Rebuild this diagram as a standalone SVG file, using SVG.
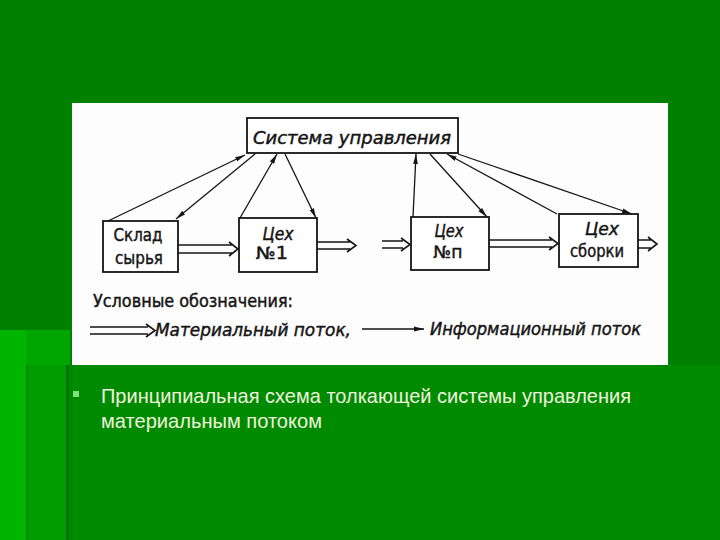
<svg xmlns="http://www.w3.org/2000/svg" width="720" height="540" viewBox="0 0 720 540">
<defs>
<marker id="ah" viewBox="0 0 10 6" refX="10" refY="3" markerWidth="10" markerHeight="6" markerUnits="userSpaceOnUse" orient="auto">
<path d="M0,0.6 L10,3 L0,5.4 Z" fill="#151515"/>
</marker>
<style>
.box{fill:#fff;stroke:#151515;stroke-width:1.8}
.info{fill:none;stroke:#151515;stroke-width:1.3}
.mat{fill:none;stroke:#151515;stroke-width:1.6;stroke-linejoin:miter}
.hand{font-family:"DejaVu Sans","Liberation Sans",sans-serif;fill:#151515;stroke:#151515;stroke-width:0.45;font-size:17px}
.it{font-style:italic}
.cap{font-family:"Liberation Sans","Arial",sans-serif;fill:#eef3dc;font-size:21px}
</style>
</defs>
<rect x="0" y="0" width="720" height="540" fill="#008000"/>
<rect x="0" y="330" width="70" height="36" fill="#00a600"/>
<rect x="0" y="330" width="26" height="210" fill="#00b500"/>
<rect x="26" y="365" width="694" height="175" fill="#008a00"/>
<rect x="27" y="365" width="39" height="175" fill="#009c00"/>
<rect x="26" y="365" width="1.5" height="175" fill="#008000"/>
<rect x="66" y="365" width="3" height="175" fill="#007400"/>
<rect x="72" y="103" width="596" height="262" fill="#fdfdfd"/>

<g id="control">
<rect class="box" x="247" y="118" width="211" height="35"/>
<text class="hand it" x="352" y="144" text-anchor="middle" textLength="198" lengthAdjust="spacingAndGlyphs">Система управления</text>
</g>
<g id="sklad">
<rect class="box" x="103" y="221" width="75" height="51"/>
<text class="hand" x="138" y="241" text-anchor="middle" textLength="49" lengthAdjust="spacingAndGlyphs">Склад</text>
<text class="hand" x="139" y="264" text-anchor="middle" textLength="48" lengthAdjust="spacingAndGlyphs">сырья</text>
</g>
<g id="ceh1">
<rect class="box" x="239" y="218" width="78" height="54"/>
<text class="hand it" x="278" y="240" text-anchor="middle" textLength="31" lengthAdjust="spacingAndGlyphs">Цех</text>
<text class="hand" x="272" y="259" text-anchor="middle" textLength="32" lengthAdjust="spacingAndGlyphs">№1</text>
</g>
<g id="cehn">
<rect class="box" x="411" y="217" width="78" height="53"/>
<text class="hand it" x="449" y="237" text-anchor="middle" textLength="29" lengthAdjust="spacingAndGlyphs">Цех</text>
<text class="hand" x="448" y="258" text-anchor="middle" textLength="29" lengthAdjust="spacingAndGlyphs">№п</text>
</g>
<g id="sborka">
<rect class="box" x="559" y="214" width="79" height="53"/>
<text class="hand it" x="602" y="235" text-anchor="middle" textLength="34" lengthAdjust="spacingAndGlyphs">Цех</text>
<text class="hand" x="597" y="257" text-anchor="middle" textLength="54" lengthAdjust="spacingAndGlyphs">сборки</text>
</g>

<g id="connectors">
<line class="info" x1="108" y1="221" x2="245" y2="155" marker-end="url(#ah)"/>
<line class="info" x1="255" y1="154" x2="176" y2="219" marker-end="url(#ah)"/>
<line class="info" x1="240" y1="218" x2="277" y2="154" marker-end="url(#ah)"/>
<line class="info" x1="285" y1="154" x2="316" y2="218" marker-end="url(#ah)"/>
<line class="info" x1="413" y1="217" x2="416" y2="154" marker-end="url(#ah)"/>
<line class="info" x1="430" y1="154" x2="487" y2="217" marker-end="url(#ah)"/>
<line class="info" x1="557" y1="214" x2="447" y2="154" marker-end="url(#ah)"/>
<line class="info" x1="458" y1="154" x2="632" y2="214" marker-end="url(#ah)"/>

<path class="mat" d="M178,245 H232 M178,253 H232 M229,242 L238,249 L229,256"/>
<path class="mat" d="M317,242 H350 M317,249 H350 M347,239 L356,245.5 L347,252"/>
<path class="mat" d="M382,241 H403 M382,248 H403 M401,238 L410,244.5 L401,251"/>
<path class="mat" d="M489,240 H552 M489,247 H552 M549,237 L558,243.5 L549,250"/>
<path class="mat" d="M638,240 H651 M638,248 H651 M648,237 L657,244 L648,251"/>
</g>

<g id="legend">
<text class="hand" x="93" y="307" textLength="200" lengthAdjust="spacingAndGlyphs">Условные обозначения:</text>
<path class="mat" d="M90,327 H148 M90,334 H148 M146,324 L155,330.5 L146,337"/>
<text class="hand it" x="155" y="336" textLength="196" lengthAdjust="spacingAndGlyphs">Материальный поток,</text>
<line class="info" x1="362" y1="329" x2="424" y2="329" marker-end="url(#ah)"/>
<text class="hand it" x="430" y="335" textLength="211" lengthAdjust="spacingAndGlyphs">Информационный поток</text>
</g>

<g id="caption">
<rect x="73" y="391" width="6" height="6" fill="#7fe07f"/>
<text class="cap" x="101" y="403" textLength="530" lengthAdjust="spacingAndGlyphs">Принципиальная схема толкающей системы управления</text>
<text class="cap" x="101" y="428" textLength="221" lengthAdjust="spacingAndGlyphs">материальным потоком</text>
</g>
</svg>
